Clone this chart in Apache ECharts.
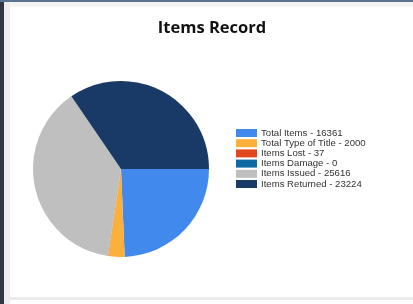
<!DOCTYPE html>
<html><head><meta charset="utf-8">
<script src="https://cdn.jsdelivr.net/npm/echarts@6/dist/echarts.min.js"></script>
<style>html,body{margin:0;padding:0;background:#fff}#c{width:413px;height:304px}</style>
</head><body><div id="c"></div>
<script>
var categories = ['Total Items', 'Total Type of Title', 'Items Lost', 'Items Damage', 'Items Issued', 'Items Returned'];
var values = [16361, 2000, 37, 0, 25616, 23224];
var colors = ['#4189ec', '#fbb03b', '#e2461c', '#0e6aa3', '#bfbfbf', '#193966'];

var chart = echarts.init(document.getElementById('c'), null, {renderer: 'canvas'});
var data = categories.map(function (c, i) { return {name: c, value: values[i]}; });
chart.setOption({
  animation: false,
  backgroundColor: '#ffffff',
  color: colors,
  graphic: [
    {type: 'rect', shape: {x: 0, y: 0, width: 4, height: 304}, style: {fill: '#2f3842'}, silent: true},
    {type: 'rect', shape: {x: 4, y: 0, width: 6, height: 304}, style: {fill: '#eeeeee'}, silent: true},
    {type: 'rect', shape: {x: 0, y: 0, width: 413, height: 2}, style: {fill: '#5b7391'}, silent: true},
    {type: 'rect', shape: {x: 10, y: 2, width: 403, height: 5}, style: {fill: '#f3f3f3'}, silent: true},
    {type: 'rect', shape: {x: 10, y: 297, width: 403, height: 3}, style: {fill: '#ebebeb'}, silent: true}
  ],
  title: {
    text: 'Items Record',
    left: 212, top: 20, textAlign: 'center', padding: 0,
    textStyle: {fontFamily: 'Open Sans', fontWeight: 'bold', fontSize: 16.5, color: '#111111'}
  },
  legend: {
    orient: 'vertical',
    left: 236, top: 128, padding: 0,
    itemWidth: 21, itemHeight: 8, itemGap: 0.2,
    icon: 'rect',
    formatter: function (name) {
      var i = categories.indexOf(name);
      return name + ' - ' + values[i];
    },
    textStyle: {fontFamily: 'Liberation Sans', fontSize: 9.6, color: '#333333', padding: [0, 0, 0, -1], lineHeight: 8}
  },
  series: [{
    type: 'pie',
    center: [121, 169],
    radius: 88,
    startAngle: 0,
    clockwise: true,
    label: {show: false},
    labelLine: {show: false},
    itemStyle: {borderWidth: 0},
    emphasis: {disabled: true},
    data: data
  }]
});
</script></body></html>
